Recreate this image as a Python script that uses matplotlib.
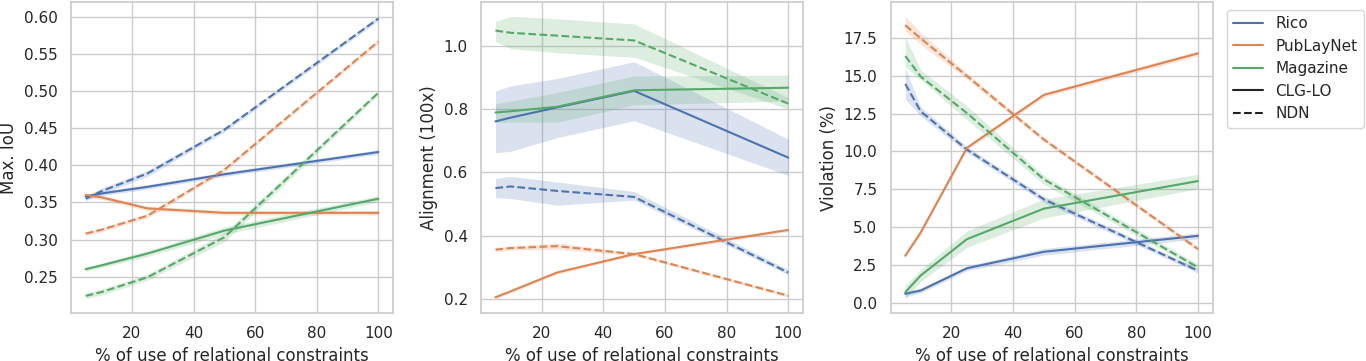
import numpy as np
import matplotlib
matplotlib.use("Agg")
import matplotlib.pyplot as plt
import seaborn as sns
from matplotlib.lines import Line2D

# --------------------
# Data
# --------------------
pct = [5, 10, 25, 50, 100]
datasets = ["Rico", "PubLayNet", "Magazine"]
methods = ["CLG-LO", "NDN"]

# Max. IoU  (rows: Rico, PubLayNet, Magazine)
iou_clg = [[0.358, 0.362, 0.371, 0.388, 0.418],
           [0.360, 0.357, 0.342, 0.336, 0.336],
           [0.260, 0.265, 0.281, 0.312, 0.355]]
iou_clg_lo = [[0.355, 0.359, 0.368, 0.385, 0.415],
              [0.357, 0.354, 0.339, 0.333, 0.333],
              [0.257, 0.262, 0.277, 0.307, 0.351]]
iou_clg_hi = [[0.361, 0.365, 0.374, 0.391, 0.421],
              [0.363, 0.360, 0.345, 0.339, 0.339],
              [0.263, 0.268, 0.285, 0.317, 0.359]]
iou_ndn = [[0.355, 0.365, 0.389, 0.448, 0.598],
           [0.308, 0.313, 0.332, 0.394, 0.567],
           [0.224, 0.229, 0.249, 0.303, 0.498]]
iou_ndn_lo = [[0.352, 0.361, 0.385, 0.445, 0.595],
              [0.305, 0.310, 0.329, 0.391, 0.564],
              [0.220, 0.225, 0.245, 0.297, 0.495]]
iou_ndn_hi = [[0.358, 0.369, 0.393, 0.451, 0.601],
              [0.311, 0.316, 0.335, 0.397, 0.570],
              [0.228, 0.233, 0.253, 0.309, 0.501]]

# Alignment (100x)
ali_clg = [[0.761, 0.773, 0.805, 0.857, 0.647],
           [0.207, 0.226, 0.285, 0.343, 0.419],
           [0.789, 0.793, 0.807, 0.859, 0.867]]
ali_clg_lo = [[0.662, 0.667, 0.710, 0.763, 0.591],
              [0.202, 0.221, 0.280, 0.338, 0.414],
              [0.758, 0.758, 0.758, 0.813, 0.825]]
ali_clg_hi = [[0.857, 0.873, 0.896, 0.949, 0.705],
              [0.212, 0.231, 0.290, 0.348, 0.424],
              [0.817, 0.825, 0.852, 0.904, 0.907]]
ali_ndn = [[0.551, 0.556, 0.542, 0.523, 0.285],
           [0.357, 0.362, 0.368, 0.343, 0.212],
           [1.047, 1.040, 1.031, 1.016, 0.817]]
ali_ndn_lo = [[0.521, 0.518, 0.497, 0.513, 0.278],
              [0.350, 0.355, 0.358, 0.338, 0.207],
              [1.013, 0.990, 0.977, 0.963, 0.800]]
ali_ndn_hi = [[0.581, 0.588, 0.570, 0.540, 0.294],
              [0.364, 0.369, 0.378, 0.348, 0.217],
              [1.076, 1.092, 1.084, 1.068, 0.836]]

# Violation (%)
vio_clg = [[0.59, 0.81, 2.28, 3.37, 4.42],
           [3.11, 4.64, 10.23, 13.73, 16.47],
           [0.70, 1.80, 4.20, 6.22, 8.04]]
vio_clg_lo = [[0.40, 0.65, 2.12, 3.15, 4.22],
              [2.96, 4.49, 10.08, 13.58, 16.30],
              [0.26, 1.40, 3.66, 5.60, 7.53]]
vio_clg_hi = [[0.78, 0.97, 2.44, 3.59, 4.62],
              [3.26, 4.79, 10.38, 13.88, 16.64],
              [1.14, 2.20, 4.75, 6.85, 8.48]]
vio_ndn = [[14.46, 12.64, 10.12, 6.83, 2.12],
           [18.33, 17.46, 14.98, 10.78, 3.55],
           [16.30, 14.94, 12.53, 8.15, 2.34]]
vio_ndn_lo = [[13.45, 12.34, 9.92, 6.63, 1.97],
              [17.96, 17.06, 14.78, 10.63, 3.40],
              [15.60, 14.72, 12.10, 7.82, 2.19]]
vio_ndn_hi = [[15.49, 12.94, 10.32, 7.03, 2.27],
              [18.92, 17.86, 15.18, 10.93, 3.70],
              [17.57, 15.38, 13.00, 8.41, 2.56]]

ylabels = ["Max. IoU", "Alignment (100x)", "Violation (%)"]

# --------------------
# Style
# --------------------
sns.set_theme(style="whitegrid")
colors = sns.color_palette("deep")[:3]
styles = {"CLG-LO": "-", "NDN": "--"}

fig = plt.figure(figsize=(13.66, 3.61), dpi=100)
ax_w, ax_h, ax_b = 0.2357, 0.861, 0.133
lefts = [0.052, 0.352, 0.652]
axes = [fig.add_axes([l, ax_b, ax_w, ax_h]) for l in lefts]

panels = [
    (iou_clg, iou_clg_lo, iou_clg_hi, iou_ndn, iou_ndn_lo, iou_ndn_hi),
    (ali_clg, ali_clg_lo, ali_clg_hi, ali_ndn, ali_ndn_lo, ali_ndn_hi),
    (vio_clg, vio_clg_lo, vio_clg_hi, vio_ndn, vio_ndn_lo, vio_ndn_hi),
]

for ax, panel, ylab in zip(axes, panels, ylabels):
    clg, clg_lo, clg_hi, ndn, ndn_lo, ndn_hi = panel
    for i, c in enumerate(colors):
        for mean, lo, hi, m in [(clg, clg_lo, clg_hi, "CLG-LO"),
                                (ndn, ndn_lo, ndn_hi, "NDN")]:
            ax.fill_between(pct, lo[i], hi[i], color=c, alpha=0.2, linewidth=0)
            ax.plot(pct, mean[i], color=c, linestyle=styles[m], linewidth=1.5)
    ax.set_xlabel("% of use of relational constraints")
    ax.set_ylabel(ylab)
    ax.set_xticks([20, 40, 60, 80, 100])

# legend
handles = [Line2D([], [], color=c, linewidth=1.5) for c in colors]
handles += [Line2D([], [], color="#222222", linestyle=styles[m], linewidth=1.5)
            for m in methods]
axes[2].legend(handles, datasets + methods, loc="upper left",
               bbox_to_anchor=(1.02, 1.0), frameon=True)

fig.savefig("out.png", dpi=100)
